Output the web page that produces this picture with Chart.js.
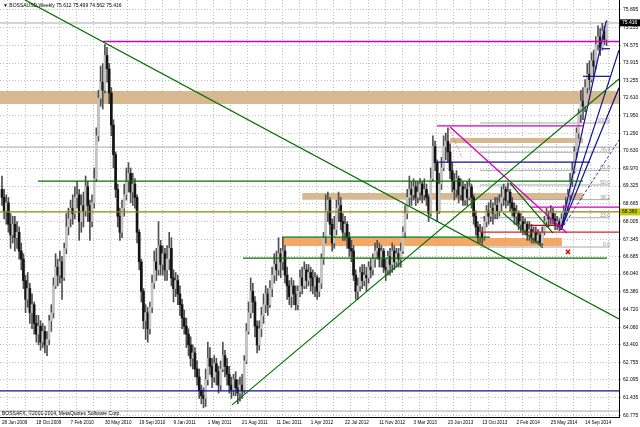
<!DOCTYPE html>
<html>
<head>
<meta charset="utf-8">
<script src="https://cdn.jsdelivr.net/npm/chart.js@4.4.1/dist/chart.umd.min.js"></script>
<style>
html, body { margin: 0; padding: 0; background: #fff; }
#wrap { position: relative; width: 640px; height: 427px; overflow: hidden; }
canvas { display: block; }
.info { position: absolute; font: 5px "Liberation Sans", Arial, sans-serif; color: #000; white-space: nowrap; }
</style>
</head>
<body>
<div id="wrap">
<canvas id="chart" width="640" height="427"></canvas>
<div class="info" style="left:3px;top:2px">&#9660; BOSSAUSD,Weekly 75.612 75.499 74.562 75.416</div>
<div class="info" style="left:2px;top:410px">BOSSAFX, &copy;2001-2014, MetaQuotes Software Corp.</div>
</div>
<script>
// weekly bars, week 0 = 28 Jun 2009
const firstOpen = 69.2;
const closes = [
  68.9, 68.4, 68.7, 67.9, 67.5, 67.9, 67.4, 67.6, 66.9, 66.6,
  65.8, 65.1, 65.5, 64.6, 64.9, 64.2, 63.8, 64.1, 63.5, 63.9,
  63.4, 63.6, 64.3, 64.6, 65.6, 66.3, 66.0, 66.5, 65.9, 67.0,
  67.8, 68.1, 68.5, 68.3, 68.9, 69.0, 68.0, 68.6, 68.4, 69.3,
  68.6, 68.0, 68.7, 69.6, 71.2, 72.6, 73.2, 72.9, 74.2, 73.7,
  72.8, 71.6, 70.5, 69.2, 68.2, 67.6, 68.5, 69.0, 69.5, 69.8,
  69.1, 69.4, 68.9, 67.6, 66.5, 65.4, 64.3, 64.6, 64.0, 64.8,
  65.7, 66.5, 66.2, 67.1, 66.4, 66.8, 66.2, 66.6, 67.0, 65.9,
  65.5, 65.8, 65.3, 64.9, 64.4, 64.1, 63.8, 63.4, 62.9, 63.1,
  62.5, 62.2, 61.7, 61.5, 61.4, 62.1, 62.9, 62.6, 62.2, 62.7,
  62.4, 61.9, 62.5, 63.0, 62.6, 62.3, 61.9, 61.7, 62.1, 61.8,
  61.6, 61.9, 61.7, 62.8, 63.9, 64.6, 65.4, 65.0, 64.1, 63.4,
  64.0, 64.5, 64.9, 65.3, 64.9, 65.5, 66.0, 66.4, 66.2, 66.8,
  66.5, 66.9, 66.0, 65.6, 65.2, 65.6, 65.3, 64.9, 65.4, 65.9,
  65.6, 66.2, 65.8, 66.1, 65.9, 65.6, 65.9, 65.4, 65.7, 66.6,
  67.4, 68.4, 68.8, 67.9, 67.2, 67.7, 68.5, 68.6, 68.0, 67.6,
  67.9, 67.4, 67.0, 66.9, 66.0, 65.4, 65.6, 66.1, 65.8, 66.0,
  65.9, 66.3, 66.2, 66.6, 66.9, 67.0, 66.6, 66.9, 66.3, 66.2,
  66.7, 66.4, 66.9, 66.5, 66.8, 66.6, 66.9, 67.6, 68.3, 68.9,
  69.2, 69.0, 69.3, 68.9, 69.1, 69.4, 69.0, 69.2, 68.9, 68.3,
  69.6, 70.8, 70.2, 68.4, 69.4, 70.0, 70.8, 71.0, 70.6, 69.9,
  69.5, 69.2, 69.6, 69.0, 69.3, 68.8, 69.2, 68.9, 69.3, 68.9,
  68.2, 67.8, 67.4, 67.6, 67.4, 68.0, 68.4, 68.2, 68.5, 68.3,
  68.6, 68.4, 68.7, 68.9, 69.2, 68.8, 69.1, 68.7, 68.5, 68.2,
  68.3, 67.9, 68.0, 67.7, 67.9, 67.5, 67.7, 67.4, 67.6, 67.3,
  67.5, 67.2, 67.6, 68.0, 68.2, 68.1, 68.3, 68.1, 67.9, 68.0,
  67.8, 68.1, 68.4, 68.6, 69.0, 69.5, 69.9, 70.6, 71.3, 72.0,
  72.5, 72.3, 73.0, 73.5, 73.3, 74.0, 73.8, 74.6, 74.9, 74.5,
  75.1, 74.8, 75.416
];
const highs = [
  69.7, 69.2, 69.0, 68.9, 68.3, 68.2, 68.2, 68.0, 67.8, 67.2,
  66.8, 66.0, 66.1, 65.7, 65.3, 65.0, 64.5, 64.5, 64.3, 64.2,
  64.1, 63.9, 64.5, 64.9, 65.9, 66.8, 66.6, 66.9, 66.7, 67.2,
  68.3, 68.5, 68.8, 69.0, 69.3, 69.5, 69.2, 69.0, 69.1, 69.7,
  69.5, 68.8, 69.0, 70.0, 71.5, 72.9, 73.8, 73.9, 74.6, 74.5,
  73.9, 73.0, 71.8, 70.6, 69.4, 68.5, 68.8, 69.4, 70.0, 70.2,
  70.0, 69.8, 69.6, 69.0, 67.7, 66.6, 65.5, 64.9, 64.8, 65.0,
  66.0, 66.9, 67.0, 68.0, 67.3, 67.1, 67.0, 67.1, 67.6, 67.4,
  66.2, 66.1, 66.0, 65.6, 65.1, 64.7, 64.4, 64.0, 63.7, 63.4,
  63.3, 62.8, 62.5, 61.9, 61.8, 62.5, 63.5, 63.3, 62.9, 63.0,
  62.9, 62.6, 62.8, 63.5, 63.2, 62.9, 62.6, 62.2, 62.3, 62.4,
  62.1, 62.2, 62.3, 63.0, 64.2, 65.0, 65.9, 65.7, 65.2, 64.3,
  64.3, 64.8, 65.3, 65.6, 65.5, 65.8, 66.3, 66.8, 66.9, 67.4,
  67.0, 67.4, 67.1, 66.3, 65.8, 65.9, 65.8, 65.6, 65.6, 66.2,
  66.3, 66.5, 66.4, 66.4, 66.3, 66.2, 66.1, 66.0, 65.9, 66.8,
  67.6, 69.0, 69.1, 68.9, 68.1, 68.2, 68.8, 69.1, 68.9, 68.3,
  68.2, 68.0, 67.6, 67.3, 67.1, 66.2, 65.9, 66.3, 66.4, 66.4,
  66.3, 66.5, 66.6, 66.8, 67.2, 67.3, 67.2, 67.1, 67.0, 66.6,
  66.9, 67.0, 67.2, 67.1, 67.0, 67.0, 67.2, 67.8, 68.6, 69.2,
  69.7, 69.5, 69.6, 69.5, 69.5, 69.6, 69.5, 69.6, 69.4, 69.0,
  70.0, 71.2, 71.0, 70.3, 69.8, 70.4, 71.2, 71.3, 71.5, 70.9,
  70.2, 69.8, 69.9, 69.7, 69.6, 69.5, 69.4, 69.5, 69.6, 69.4,
  69.0, 68.4, 68.0, 67.9, 67.8, 68.2, 68.6, 68.7, 68.8, 68.7,
  68.9, 68.9, 69.0, 69.3, 69.4, 69.3, 69.45, 69.2, 68.9, 68.7,
  68.6, 68.4, 68.3, 68.2, 68.1, 68.0, 68.0, 67.9, 67.8, 67.8,
  67.7, 67.6, 67.8, 68.2, 68.5, 68.4, 68.6, 68.5, 68.3, 68.2,
  68.1, 68.3, 68.6, 68.9, 69.2, 69.8, 70.2, 70.8, 71.5, 72.2,
  72.9, 73.0, 73.3, 73.9, 74.0, 74.3, 74.4, 74.9, 75.3, 75.2,
  75.4, 75.3, 75.499
];
const lows = [
  68.6, 68.1, 67.9, 67.6, 67.0, 67.2, 66.9, 67.0, 66.6, 66.2,
  65.5, 64.6, 64.8, 64.2, 64.0, 63.8, 63.5, 63.4, 63.2, 63.3,
  63.1, 63.0, 63.4, 63.9, 64.4, 65.5, 65.6, 65.7, 65.1, 65.8,
  66.8, 67.5, 67.8, 67.9, 68.1, 68.5, 67.3, 67.6, 67.8, 68.2,
  68.0, 67.3, 67.8, 68.5, 69.5, 71.0, 72.3, 72.2, 72.8, 73.2,
  72.4, 71.2, 70.0, 68.9, 67.8, 67.3, 67.4, 68.2, 68.8, 69.1,
  68.7, 68.6, 68.5, 67.2, 66.2, 65.0, 64.0, 63.6, 63.5, 63.8,
  64.6, 65.5, 65.8, 66.0, 66.0, 66.0, 65.8, 65.8, 66.2, 65.6,
  65.0, 65.2, 64.9, 64.5, 64.0, 63.8, 63.3, 63.0, 62.6, 62.5,
  62.2, 61.9, 61.4, 61.2, 61.05, 61.1, 61.9, 62.3, 61.8, 62.0,
  61.9, 61.6, 61.7, 62.4, 62.2, 61.9, 61.6, 61.4, 61.5, 61.5,
  61.2, 61.3, 61.4, 61.6, 62.7, 63.8, 64.4, 64.6, 63.7, 63.1,
  63.2, 63.7, 64.2, 64.6, 64.5, 64.8, 65.2, 65.7, 65.8, 66.0,
  65.9, 66.2, 65.7, 65.1, 64.9, 64.8, 64.9, 64.7, 64.7, 65.2,
  65.3, 65.5, 65.5, 65.6, 65.4, 65.3, 65.2, 65.1, 65.2, 65.5,
  66.4, 67.2, 68.0, 67.5, 66.9, 67.0, 67.5, 68.0, 67.7, 67.3,
  67.3, 67.0, 66.7, 66.5, 65.8, 65.1, 65.1, 65.4, 65.5, 65.6,
  65.4, 65.7, 65.9, 66.0, 66.3, 66.6, 66.3, 66.3, 66.1, 65.8,
  66.0, 66.0, 66.1, 66.2, 66.3, 66.3, 66.3, 66.8, 67.4, 68.1,
  68.6, 68.6, 68.8, 68.6, 68.7, 68.8, 68.7, 68.8, 68.6, 68.0,
  68.2, 69.5, 69.9, 68.0, 68.3, 69.2, 69.9, 70.3, 70.2, 69.6,
  69.1, 68.8, 68.9, 68.7, 68.8, 68.6, 68.6, 68.6, 68.8, 68.5,
  67.9, 67.5, 67.2, 67.2, 67.15, 67.3, 67.8, 67.9, 68.0, 67.9,
  68.1, 68.1, 68.2, 68.4, 68.6, 68.5, 68.6, 68.4, 68.2, 67.9,
  67.9, 67.7, 67.6, 67.5, 67.5, 67.3, 67.3, 67.2, 67.2, 67.2,
  67.2, 67.13, 67.1, 67.5, 67.8, 67.8, 67.9, 67.9, 67.7, 67.7,
  67.65, 67.7, 67.9, 68.2, 68.4, 68.8, 69.3, 69.8, 70.4, 71.1,
  71.7, 71.8, 72.1, 72.8, 72.9, 73.2, 73.4, 73.7, 74.4, 74.2,
  74.4, 74.6, 74.562
];

// axis labels and grid
const dateLabels = ['28 Jun 2009', '18 Oct 2009', '7 Feb 2010', '30 May 2010', '19 Sep 2010', '9 Jan 2011',
  '1 May 2011', '21 Aug 2011', '11 Dec 2011', '1 Apr 2012', '22 Jul 2012', '11 Nov 2012', '3 Mar 2013',
  '23 Jun 2013', '13 Oct 2013', '2 Feb 2014', '25 May 2014', '14 Sep 2014'];
const labelWeeks = dateLabels.map((d, i) => i * 16);
const gridWeeks = [2.5, 10.5, 18.5, 26.5, 34.5, 42.5, 50.5, 58.5, 66.5, 74.5, 82.5, 90.5, 98.5, 106.5, 114.5,
  122.5, 130.5, 138.5, 146.5, 154.5, 162.5, 170.5, 178.5, 186.5, 194.5, 202.5, 210.5, 218.5, 226.5, 234.5,
  242.5, 250.5, 258.5, 266.5, 274.5, 282.5];
const priceTicks = [75.895, 75.235, 74.575, 73.915, 73.255, 72.610, 71.950, 71.290, 70.630, 69.970, 69.325, 68.665,
  68.005, 67.345, 66.685, 66.040, 65.380, 64.720, 64.060, 63.400, 62.755, 62.095, 61.435, 60.775];

// drawn objects: [week1, price1, week2, price2]
const greenLines = [
  [10.7, 76.27, 287.8, 64.37],
  [107.3, 61.16, 287.8, 73.32],
  [16.8, 69.51, 271.0, 69.51],
  [112.4, 66.64, 282.2, 66.64],
  [130.6, 67.42, 227.6, 67.42],
  [233.7, 68.32, 252.3, 67.02],
  [236.9, 69.44, 257.0, 67.57]
];
const oliveLines = [[-1, 68.36, 290, 68.36]];
const magentaLines = [
  [47.1, 74.72, 290, 74.72],
  [202.9, 71.57, 271.0, 71.57],
  [209.0, 71.53, 263.5, 67.57],
  [246.3, 68.54, 290, 68.54]
];
const navyLines = [
  [202.9, 70.22, 274.3, 70.22],
  [-1, 61.68, 290, 61.68],
  [260.7, 67.69, 281.7, 75.45],
  [260.7, 67.69, 287.8, 74.40],
  [260.7, 67.69, 287.8, 72.99],
  [271.0, 73.42, 283.5, 73.42],
  [280.0, 74.45, 283.6, 74.45]
];
const navyDashed = [[260.7, 67.69, 287.8, 71.04]];
const redLines = [[223.0, 67.61, 290, 67.61]];
const darkRedLines = [[245.9, 67.86, 261.6, 67.86]];
const redDotted = [[208.8, 71.45, 214.5, 70.40]];
const grayLines = [
  [-1, 75.41, 290, 75.41],
  [-1, 70.78, 290, 70.78],
  [-1, 60.93, 290, 60.93]
];
// bands: [week1, week2, top, bottom]
const tanBands = [
  [-1, 290, 72.87, 72.39],
  [209.0, 271.0, 71.12, 70.93],
  [140.0, 271.0, 69.07, 68.81]
];
const orangeBands = [[130.6, 261.2, 67.39, 67.09]];
// fibonacci retracement
const fibFrom = 223.0, fibTo = 283.6, fibZero = 67.05, fibFull = 71.68;
const fibLevels = [0, 23.6, 38.2, 50.0, 61.8, 76.4, 100.0];
const crossMarks = [{x: 264.0, y: 66.87}];
const lastPrice = 75.416, levelPrice = 68.36;

const opens = closes.map((c, i) => (i === 0 ? firstOpen : closes[i - 1]));

function segs(list, color, width, order, dash) {
  return list.map(s => ({
    type: 'line',
    data: [{x: s[0], y: s[1]}, {x: s[2], y: s[3]}],
    borderColor: color,
    borderWidth: width,
    borderDash: dash || [],
    pointRadius: 0,
    pointHoverRadius: 0,
    fill: false,
    order: order
  }));
}
function bands(list, color) {
  return list.map(b => ({
    type: 'line',
    data: [{x: b[0], y: b[2]}, {x: b[1], y: b[2]}],
    borderWidth: 0,
    pointRadius: 0,
    pointHoverRadius: 0,
    backgroundColor: color,
    fill: {target: {value: b[3]}},
    order: 5
  }));
}
const fibSets = fibLevels.map(lv => {
  const p = fibZero + (fibFull - fibZero) * lv / 100;
  return {
    type: 'line',
    data: [{x: fibFrom, y: p}, {x: fibTo, y: p}],
    borderColor: '#a8a8a8',
    borderWidth: 1,
    pointRadius: 0,
    pointHoverRadius: 0,
    order: 4
  };
});

const datasets = [].concat(
  bands(tanBands, '#d8b890'),
  bands(orangeBands, '#f4a868'),
  fibSets,
  segs(grayLines, '#a8a8a8', 1, 4),
  [{
    type: 'bar',
    data: closes.map((c, i) => ({x: i, y: [lows[i], highs[i]]})),
    backgroundColor: '#505050',
    barThickness: 1,
    grouped: false,
    order: 3
  }, {
    type: 'bar',
    data: closes.map((c, i) => ({x: i, y: [opens[i], c]})),
    backgroundColor: closes.map((c, i) => (c >= opens[i] ? '#c4c4c4' : '#141414')),
    barThickness: 2,
    minBarLength: 1,
    grouped: false,
    order: 2
  }],
  segs(greenLines, '#007000', 1.2, 1),
  segs(oliveLines, '#8a8a00', 1.2, 1),
  segs(magentaLines, '#d000c0', 1.3, 1),
  segs(navyLines, '#101090', 1.2, 1),
  segs(navyDashed, '#3030a0', 1, 1, [3, 2]),
  segs(redLines, '#e02020', 1.2, 1),
  segs(darkRedLines, '#b01020', 1.2, 1),
  segs(redDotted, '#e04060', 1, 1, [1, 2]),
  [{
    type: 'scatter',
    data: crossMarks,
    pointStyle: 'crossRot',
    radius: 3,
    hoverRadius: 3,
    borderColor: '#e00000',
    borderWidth: 1.5,
    order: 0
  }]
);

const overlay = {
  id: 'overlay',
  beforeDatasetsDraw(chart) {
    // vertical dotted grid every 8 bars
    const {ctx, scales: {x}, chartArea} = chart;
    ctx.save();
    ctx.strokeStyle = '#c0c0c0';
    ctx.lineWidth = 1;
    ctx.setLineDash([1, 2]);
    gridWeeks.forEach(w => {
      const px = Math.round(x.getPixelForValue(w)) + 0.5;
      ctx.beginPath();
      ctx.moveTo(px, chartArea.top);
      ctx.lineTo(px, chartArea.bottom);
      ctx.stroke();
    });
    ctx.restore();
  },
  afterDraw(chart) {
    const {ctx, scales: {x, y}, chartArea} = chart;
    ctx.save();
    ctx.font = '5px "Liberation Sans", Arial, sans-serif';
    ctx.fillStyle = '#909090';
    ctx.textAlign = 'right';
    ctx.textBaseline = 'bottom';
    fibLevels.forEach(lv => {
      const p = fibZero + (fibFull - fibZero) * lv / 100;
      ctx.fillText(lv.toFixed(1), x.getPixelForValue(fibTo), y.getPixelForValue(p));
    });
    // price boxes on the axis
    const boxes = [[lastPrice, '#000000', '#ffffff'], [levelPrice, '#c8c800', '#000000']];
    ctx.textAlign = 'left';
    ctx.textBaseline = 'middle';
    boxes.forEach(b => {
      const py = y.getPixelForValue(b[0]);
      ctx.fillStyle = b[1];
      ctx.fillRect(chartArea.right + 1, py - 3.5, 20, 7);
      ctx.fillStyle = b[2];
      ctx.fillText(b[0].toFixed(3), chartArea.right + 3, py);
    });
    ctx.restore();
  }
};

new Chart(document.getElementById('chart'), {
  type: 'bar',
  data: {datasets: datasets},
  options: {
    responsive: false,
    animation: false,
    devicePixelRatio: 1,
    layout: {padding: 0, autoPadding: false},
    events: [],
    plugins: {legend: {display: false}, tooltip: {enabled: false}},
    scales: {
      x: {
        type: 'linear',
        min: -0.93,
        max: 287.8,
        offset: false,
        afterBuildTicks: s => { s.ticks = labelWeeks.map(v => ({value: v})); },
        afterFit: s => { s.height = 10; s.paddingLeft = 0; s.paddingRight = 0; },
        ticks: {
          callback: (v, i) => dateLabels[i],
          align: 'start',
          maxRotation: 0,
          autoSkip: false,
          padding: 3,
          color: '#000',
          font: {family: 'Liberation Sans', size: 4.6}
        },
        grid: {display: false, drawTicks: false, tickLength: 0},
        border: {display: true, color: '#000'}
      },
      y: {
        type: 'linear',
        position: 'right',
        min: 60.708,
        max: 76.268,
        afterBuildTicks: s => { s.ticks = priceTicks.map(v => ({value: v})); },
        afterFit: s => { s.width = 21; s.paddingTop = 0; s.paddingBottom = 0; },
        ticks: {
          callback: v => v.toFixed(3),
          padding: 2,
          color: '#000',
          font: {family: 'Liberation Sans', size: 5}
        },
        grid: {color: '#c0c0c0', tickLength: 2},
        border: {display: true, color: '#000', dash: [1, 2]}
      }
    }
  },
  plugins: [overlay]
});
</script>
</body>
</html>
